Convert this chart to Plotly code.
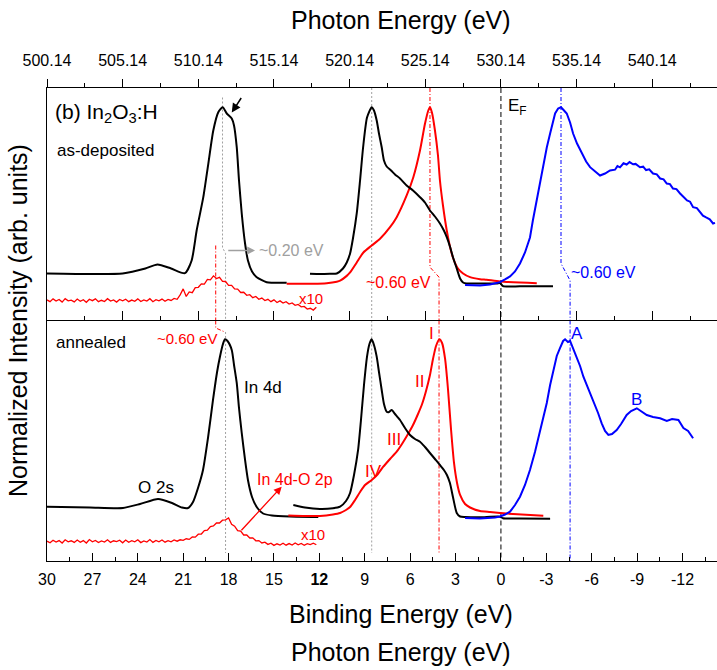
import plotly.graph_objects as go

# ---------------- data: binding energy (eV) and normalized intensity (offset, arb. units) ----------------
# as-deposited (upper panel)
dep_core_be = [30.0, 27.0, 25.0, 23.5, 22.7, 21.8, 20.88, 20.44, 20.11, 19.67, 19.34, 19.01, 18.68,
               18.39, 18.12, 17.79, 17.64, 17.46, 17.31, 17.13, 16.91, 16.72, 16.45, 16.14, 15.48, 14.16]
dep_core_i = [23.5, 23.25, 23.5, 26.0, 28.0, 26.0, 23.65, 30.0, 45.0, 61.65, 78.35, 95.0, 104.15,
              106.65, 103.5, 101.0, 97.5, 86.65, 70.0, 53.5, 38.5, 30.0, 24.5, 21.65, 19.15, 18.85]

dep_vb_black_be = [12.62, 11.96, 11.30, 10.85, 10.44, 10.19, 9.97, 9.78, 9.53, 9.31, 9.11, 8.85, 8.54,
                   8.39, 8.21, 8.06, 7.88, 7.73, 7.55, 7.26, 7.00, 6.67, 6.23, 5.81, 5.35, 5.02, 4.69,
                   4.36, 4.03, 3.77, 3.58, 3.37, 3.17, 2.92, 2.70, 2.50, 2.26, 1.38, 0.28, 0.06, -0.14,
                   -1.26, -3.44]
dep_vb_black_i = [23.35, 23.25, 23.35, 23.5, 26.0, 29.0, 33.5, 41.0, 53.5, 70.0, 86.5, 101.5, 106.65,
                  105.0, 100.0, 93.5, 86.65, 80.0, 77.0, 75.0, 73.0, 71.0, 67.5, 65.0, 61.65, 59.0, 55.0,
                  52.0, 48.5, 45.0, 41.65, 37.0, 31.65, 26.0, 21.0, 19.0, 18.5, 18.5, 18.5, 18.75, 17.15,
                  17.1, 17.15]

dep_vb_red_be = [14.16, 12.40, 11.51, 10.85, 10.63, 10.19, 9.97, 9.53, 9.09, 8.54, 7.99, 7.33, 6.89,
                 6.23, 5.79, 5.35, 5.02, 4.80, 4.69, 4.56, 4.36, 4.16, 4.03, 3.83, 3.58, 3.37, 3.15,
                 2.84, 2.50, 2.04, 1.38, 0.94, 0.06, -2.37]
dep_vb_red_i = [18.35, 18.35, 18.65, 19.4, 19.9, 22.3, 24.0, 29.0, 34.0, 37.5, 40.85, 46.65, 51.65,
                62.5, 71.65, 85.0, 98.35, 105.0, 106.65, 104.0, 95.0, 82.5, 70.0, 57.5, 45.0, 37.0, 31.0,
                26.0, 23.5, 21.65, 20.65, 20.35, 19.5, 18.65]

dep_blue_be = [2.37, 1.38, 0.72, 0.06, -0.27, -0.60, -0.93, -1.26, -1.59, -1.92, -2.11, -2.37, -2.58,
               -2.80, -3.03, -3.25, -3.58, -3.78, -3.97, -4.17, -4.35, -4.57, -4.77, -5.03, -5.34,
               -5.63, -5.89, -6.22, -6.55, -6.88, -7.21, -7.54, -7.70, -7.87, -8.10, -8.31, -8.50,
               -8.73, -8.90, -9.19, -9.40, -9.59, -9.80, -10.05, -10.30, -10.52, -10.75, -10.96,
               -11.17, -11.37, -11.60, -11.84, -12.05, -12.30, -12.50, -12.70, -12.95, -13.16,
               -13.35, -13.56, -13.80, -14.02, -14.15]
dep_blue_i = [17.75, 17.5, 18.0, 19.15, 20.5, 22.0, 24.5, 28.5, 34.0, 41.5, 50.0, 60.0, 69.0,
              78.5, 86.5, 93.5, 103.5, 106.0, 106.65, 105.0, 103.5, 99.0, 93.5, 88.5, 83.5,
              79.5, 76.65, 74.5, 72.5, 73.5, 75.0, 75.4, 77.2, 76.6, 78.6, 78.0, 79.2,
              78.1, 78.3, 76.65, 76.9, 75.2, 75.6, 73.5, 73.1, 71.0, 70.6, 68.5,
              68.2, 66.0, 65.7, 63.5, 62.0, 60.0, 59.4, 56.65, 56.2, 54.0,
              52.4, 51.5, 50.6, 48.5, 48.8]

# x10 magnified In 4d - O 2p region, sampled every 0.2 eV from 30.0 eV down to 12.2 eV
dep_x10_be = [round(30.0 - 0.2 * k, 1) for k in range(90)]
dep_x10_i = [10.3, 9.4, 10.8, 9.7, 10.5, 9.2, 10.9, 9.8, 10.2, 9.3,
             10.7, 9.6, 10.4, 9.1, 10.6, 9.9, 10.8, 9.4, 10.1, 9.5,
             10.9, 9.7, 10.3, 9.2, 10.5, 9.8, 10.6, 9.4, 10.2, 9.6,
             10.8, 9.5, 10.3, 9.7, 10.9, 9.4, 10.4, 9.8, 10.7, 9.6,
             10.5, 10.0, 11.0, 10.6, 12.8, 15.8, 12.0, 14.3, 13.9, 16.4,
             16.6, 18.3, 18.2, 20.5, 20.3, 22.3, 21.0, 21.6, 19.6, 19.5,
             17.6, 17.6, 15.8, 15.7, 14.0, 14.1, 12.6, 12.9, 11.4, 12.0,
             10.6, 11.2, 10.0, 10.6, 9.4, 10.3, 9.0, 9.8, 8.7, 9.4,
             8.2, 8.8, 7.6, 8.0, 6.8, 7.0, 5.7, 6.1, 5.2, 6.6]

# annealed (lower panel)
ann_core_be = [30.0, 27.16, 24.98, 23.85, 22.66, 21.74, 21.08, 20.68, 20.35, 20.02, 19.69, 19.36, 19.03,
               18.76, 18.57, 18.37, 18.24, 18.07, 17.79, 17.64, 17.46, 17.31, 17.13, 16.91, 16.72, 16.45,
               16.14, 15.72, 15.13, 13.94, 12.07]
ann_core_i = [27.15, 26.75, 26.5, 28.5, 31.0, 29.0, 26.75, 26.5, 29.5, 36.5, 45.5, 61.5, 80.5,
              94.5, 102.15, 108.5, 110.85, 110.0, 105.5, 98.0, 89.0, 76.5, 64.0, 50.5, 40.5, 32.0,
              27.0, 23.75, 22.75, 22.25, 22.0]

ann_vb_black_be = [13.72, 12.95, 11.96, 11.10, 10.63, 10.24, 9.97, 9.71, 9.44, 9.25, 9.05, 8.85, 8.69,
                   8.54, 8.39, 8.21, 8.06, 7.88, 7.73, 7.55, 7.39, 7.22, 7.00, 6.67, 6.34, 6.01, 5.68,
                   5.35, 5.02, 4.69, 4.36, 4.03, 3.77, 3.57, 3.37, 3.17, 2.92, 2.70, 2.37, 1.38, 0.06,
                   -0.14, -1.26, -3.25]
ann_vb_black_i = [28.0, 26.75, 26.0, 26.35, 27.15, 30.0, 34.0, 43.0, 55.5, 70.5, 88.0, 102.15, 108.5,
                  110.85, 108.0, 102.15, 94.5, 85.5, 78.5, 74.65, 74.5, 75.5, 73.5, 70.5, 66.5, 63.0, 61.0,
                  59.65, 57.0, 54.0, 51.0, 48.0, 45.5, 43.0, 39.0, 32.0, 24.0, 22.25, 22.0, 21.85, 22.15,
                  21.35, 21.25, 21.15]

ann_vb_red_be = [14.05, 12.95, 11.96, 11.10, 10.63, 10.24, 9.97, 9.64, 9.31, 8.98, 8.54, 8.19, 7.79,
                 7.33, 6.89, 6.54, 6.14, 5.81, 5.48, 5.21, 4.95, 4.69, 4.49, 4.29, 4.07, 3.89, 3.69,
                 3.50, 3.30, 3.10, 2.90, 2.70, 2.37, 2.04, 1.38, 0.72, 0.06, -0.80, -2.80]
ann_vb_red_i = [22.75, 22.5, 22.5, 23.25, 24.0, 25.5, 27.0, 30.5, 34.5, 38.0, 40.5, 43.0, 47.0,
                51.0, 54.65, 58.5, 63.5, 68.0, 73.5, 78.5, 85.0, 93.0, 101.0, 107.5, 110.85, 109.0, 101.0,
                86.0, 66.0, 49.0, 39.0, 33.0, 28.5, 26.75, 25.0, 24.5, 24.0, 23.5, 22.65]

ann_blue_be = [2.37, 1.38, 0.39, 0.06, -0.27, -0.60, -0.93, -1.26, -1.59, -1.92, -2.25, -2.58, -2.80,
               -3.03, -3.25, -3.46, -3.69, -3.91, -4.11, -4.24, -4.43, -4.57, -4.77, -5.01, -5.23,
               -5.45, -5.76, -6.11, -6.42, -6.66, -6.88, -7.10, -7.34, -7.65, -7.94, -8.31, -8.60,
               -8.98, -9.26, -9.64, -10.05, -10.52, -10.96, -11.31, -11.73, -12.06, -12.37, -12.70]
ann_blue_i = [21.5, 21.25, 21.75, 22.25, 23.25, 24.65, 28.0, 32.15, 38.0, 45.5, 54.5, 64.5, 71.5,
              79.0, 88.0, 95.5, 102.5, 106.5, 110.0, 110.85, 109.5, 110.0, 106.5, 102.15, 97.5,
              92.15, 86.5, 80.5, 74.0, 68.85, 65.0, 63.0, 63.5, 65.5, 68.5, 73.0, 75.0,
              76.35, 75.0, 73.0, 72.0, 71.35, 70.0, 71.0, 70.5, 66.5, 65.0, 61.35]

ann_x10_be = [round(30.0 - 0.2 * k, 1) for k in range(90)]
ann_x10_i = [9.9, 9.1, 10.4, 9.5, 10.2, 9.0, 10.6, 9.6, 10.1, 9.3,
             10.5, 9.4, 10.2, 9.0, 10.7, 9.6, 10.3, 9.2, 10.0, 9.5,
             10.6, 9.3, 10.1, 9.7, 10.4, 9.1, 10.5, 9.4, 10.2, 9.6,
             10.6, 9.2, 10.0, 9.5, 10.7, 9.3, 10.3, 9.6, 10.5, 9.4,
             10.2, 9.6, 10.5, 9.9, 10.6, 10.3, 11.1, 10.8, 12.0, 11.9,
             13.4, 13.5, 15.2, 15.4, 17.2, 17.5, 19.0, 19.0, 20.4, 20.6,
             21.5, 18.3, 17.4, 15.2, 14.9, 13.0, 13.0, 11.5, 11.6, 10.1,
             10.2, 9.0, 9.4, 8.3, 8.9, 7.8, 8.6, 8.0, 8.9, 7.9,
             8.7, 8.0, 9.0, 8.1, 8.8, 7.9, 8.7, 8.2, 8.9, 8.1]

# peak positions (binding energy, eV)
dep_in4d_peak, ann_in4d_peak = 18.40, 18.20
dep_x10_peak, ann_x10_peak = 18.85, 18.25
vb_black_peak = 8.54
dep_red_peak, ann_red_peak = 4.69, 4.09
dep_blue_peak, ann_blue_peak = -3.97, -4.57
fermi_level = 0.0

# axis tick values
be_ticks = [30, 27, 24, 21, 18, 15, 12, 9, 6, 3, 0, -3, -6, -9, -12]
be_ticktext = ["30", "27", "24", "21", "18", "15", "<b>12</b>", "9", "6", "3", "0", "-3", "-6", "-9", "-12"]
be_minor = [28.5, 25.5, 22.5, 19.5, 16.5, 13.5, 10.5, 7.5, 4.5, 1.5, -1.5, -4.5, -7.5, -10.5, -13.5]
photon_offset = 530.14
photon_ticks = [500.14, 505.14, 510.14, 515.14, 520.14, 525.14, 530.14, 535.14, 540.14]
photon_ticktext = ["500.14", "505.14", "510.14", "515.14", "520.14", "525.14", "530.14", "535.14", "540.14"]
photon_minor = [502.64, 507.64, 512.64, 517.64, 522.64, 527.64, 532.64, 537.64, 542.64]

BE_RANGE = [30.0, -14.28]
UP_RANGE = [0, 116.25]
LO_RANGE = [0, 120.25]

FONT = "Arial, Liberation Sans, sans-serif"
RED, BLUE, BLACK, GRAY = "#ff0000", "#0000ff", "#000000", "#a0a0a0"

fig = go.Figure()


def curve(x, y, color, panel, width=2.0, smooth=True):
    xa, ya = ("x2", "y2") if panel == "up" else ("x", "y")
    fig.add_trace(go.Scatter(
        x=x, y=y, xaxis=xa, yaxis=ya, mode="lines",
        line=dict(color=color, width=width, shape="spline" if smooth else "linear",
                  smoothing=0.6 if smooth else None),
        showlegend=False, hoverinfo="skip"))


def guide(x, y, color, dash, panel, width=1.0):
    xa, ya = ("x2", "y2") if panel == "up" else ("x", "y")
    fig.add_trace(go.Scatter(
        x=x, y=y, xaxis=xa, yaxis=ya, mode="lines",
        line=dict(color=color, width=width, dash=dash),
        showlegend=False, hoverinfo="skip"))


# guide lines (drawn first, underneath the spectra)
guide([dep_in4d_peak, dep_in4d_peak, ann_in4d_peak, ann_in4d_peak], [111.5, 36.5, 33.5, 0], GRAY, "2px,2px", "up")
guide([ann_in4d_peak, ann_in4d_peak], [114.5, 4], GRAY, "2px,2px", "lo")
guide([dep_x10_peak, dep_x10_peak], [37.5, 0], RED, "4px,2px,1px,2px", "up")
guide([dep_x10_peak, dep_x10_peak, ann_x10_peak], [120.25, 116.5, 114.5], RED, "4px,2px,1px,2px", "lo")
guide([vb_black_peak, vb_black_peak], [116.25, 0], GRAY, "2px,2px", "up")
guide([vb_black_peak, vb_black_peak], [120.25, 4], GRAY, "2px,2px", "lo")
guide([dep_red_peak, dep_red_peak, ann_red_peak, ann_red_peak], [116.25, 26.65, 21.65, 0], RED, "4px,2px,1px,2px", "up")
guide([ann_red_peak, ann_red_peak], [120.25, 4], RED, "4px,2px,1px,2px", "lo")
guide([fermi_level, fermi_level], [116.25, 0], BLACK, "5px,3px", "up")
guide([fermi_level, fermi_level], [120.25, 0], BLACK, "5px,3px", "lo")
guide([dep_blue_peak, dep_blue_peak, ann_blue_peak, ann_blue_peak], [116.25, 28.5, 20.0, 0], BLUE, "4px,2px,1px,2px", "up")
guide([ann_blue_peak, ann_blue_peak], [120.25, 0], BLUE, "4px,2px,1px,2px", "lo")

# spectra
curve(dep_x10_be, dep_x10_i, RED, "up", width=1.3, smooth=False)
curve(dep_core_be, dep_core_i, BLACK, "up")
curve(dep_vb_red_be, dep_vb_red_i, RED, "up")
curve(dep_vb_black_be, dep_vb_black_i, BLACK, "up")
curve(dep_blue_be, dep_blue_i, BLUE, "up", smooth=False)

curve(ann_x10_be, ann_x10_i, RED, "lo", width=1.3, smooth=False)
curve(ann_core_be, ann_core_i, BLACK, "lo")
curve(ann_vb_red_be, ann_vb_red_i, RED, "lo")
curve(ann_vb_black_be, ann_vb_black_i, BLACK, "lo")
curve(ann_blue_be, ann_blue_i, BLUE, "lo", smooth=False)

# carrier trace for the photon-energy axis on top
fig.add_trace(go.Scatter(x=[photon_offset - BE_RANGE[0], photon_offset - BE_RANGE[1]], y=[None, None],
                         xaxis="x3", yaxis="y2", mode="lines", showlegend=False, hoverinfo="skip"))

axis_common = dict(showgrid=False, zeroline=False, showline=True, linecolor="black", linewidth=1.3,
                   tickcolor="black", tickwidth=1.3, mirror=False)

fig.update_layout(
    width=717, height=670,
    margin=dict(l=47, r=0, t=88, b=109),
    paper_bgcolor="white", plot_bgcolor="white",
    font=dict(family=FONT, color="black", size=16),
    xaxis=dict(**axis_common, domain=[0, 1], anchor="y", range=BE_RANGE,
               tickmode="array", tickvals=be_ticks, ticktext=be_ticktext, ticks="inside", ticklen=8,
               tickfont=dict(size=16), ticklabelstandoff=4,
               minor=dict(tickmode="array", tickvals=be_minor, ticks="inside", ticklen=4,
                          tickcolor="black", tickwidth=1.3)),
    yaxis=dict(**axis_common, domain=[0, 0.5085], anchor="x", range=LO_RANGE,
               showticklabels=False, ticks=""),
    xaxis2=dict(**axis_common, domain=[0, 1], anchor="y2", range=BE_RANGE, matches="x",
                tickmode="array", tickvals=[30, 25, 20, 15, 10, 5, 0, -5, -10], ticks="inside", ticklen=9,
                showticklabels=False,
                minor=dict(tickmode="array", tickvals=[27.5, 22.5, 17.5, 12.5, 7.5, 2.5, -2.5, -7.5, -12.5],
                           ticks="inside", ticklen=4, tickcolor="black", tickwidth=1.3)),
    yaxis2=dict(**axis_common, domain=[0.5085, 1], anchor="x2", range=UP_RANGE,
                showticklabels=False, ticks=""),
    xaxis3=dict(**axis_common, overlaying="x2", side="top", anchor="y2",
                range=[photon_offset - BE_RANGE[0], photon_offset - BE_RANGE[1]],
                tickmode="array", tickvals=photon_ticks, ticktext=photon_ticktext,
                ticks="outside", ticklen=8, tickfont=dict(size=16), ticklabelstandoff=6,
                minor=dict(tickmode="array", tickvals=photon_minor, ticks="outside", ticklen=4,
                           tickcolor="black", tickwidth=1.3)),
)


def note(text, x, y, panel, color=BLACK, size=17, xanchor="center"):
    xa, ya = ("x2", "y2") if panel == "up" else ("x", "y")
    fig.add_annotation(text=text, x=x, y=y, xref=xa, yref=ya, showarrow=False,
                       xanchor=xanchor, yanchor="middle", font=dict(size=size, color=color, family=FONT))


# panel labels
note("(b) In<sub>2</sub>O<sub>3</sub>:H", 29.6, 104, "up", size=21, xanchor="left")
note("as-deposited", 29.47, 85, "up", size=17, xanchor="left")
note("annealed", 29.54, 109, "lo", size=17, xanchor="left")
note("E<sub>F</sub>", -0.33, 107, "up", size=17, xanchor="left")
note("~0.20 eV", 16.12, 35, "up", color=GRAY, size=16, xanchor="left")
note("~0.60 eV", 4.49, 19, "up", color=RED, size=16, xanchor="right")
note("~0.60 eV", -4.50, 24, "up", color=BLUE, size=16, xanchor="left")
note("x10", 12.55, 11, "up", color=RED, size=15)
note("x10", 12.45, 13, "lo", color=RED, size=15)
note("~0.60 eV", 20.75, 111, "lo", color=RED, size=15)
note("In 4d", 17.11, 86.5, "lo", size=17, xanchor="left")
note("O 2s", 22.8, 36.5, "lo", size=17)
note("In 4d-O 2p", 16.25, 40.5, "lo", color=RED, size=16, xanchor="left")
note("I", 4.57, 113.85, "lo", color=RED, size=17)
note("II", 5.35, 89.65, "lo", color=RED, size=17)
note("III", 7.1, 60.5, "lo", color=RED, size=17)
note("IV", 8.39, 44.65, "lo", color=RED, size=17)
note("A", -5.01, 113.85, "lo", color=BLUE, size=17)
note("B", -8.93, 80.5, "lo", color=BLUE, size=17)

# arrows
fig.add_annotation(x=17.79, y=104, ax=17.1, ay=112, xref="x2", yref="y2", axref="x2", ayref="y2",
                   text="", showarrow=True, arrowhead=2, arrowsize=1.2, arrowwidth=1.5, arrowcolor=BLACK)
fig.add_annotation(x=16.25, y=35, ax=18.12, ay=35, xref="x2", yref="y2", axref="x2", ayref="y2",
                   text="", showarrow=True, arrowhead=2, arrowsize=1.2, arrowwidth=1.3, arrowcolor=GRAY)
fig.add_annotation(x=14.49, y=37.15, ax=17.24, ay=14.65, xref="x", yref="y", axref="x", ayref="y",
                   text="", showarrow=True, arrowhead=2, arrowsize=1.2, arrowwidth=1.3, arrowcolor=RED)

# axis titles
TITLE_SIZE = 25
for text, y in [("Photon Energy (eV)", 1.1438), ("Binding Energy (eV)", -0.112), ("Photon Energy (eV)", -0.192)]:
    fig.add_annotation(text=text, x=0.528, y=y, xref="paper", yref="paper", showarrow=False,
                       xanchor="center", yanchor="middle", font=dict(size=TITLE_SIZE, family=FONT))
fig.add_annotation(text="Normalized Intensity (arb. units)", x=-0.0433, y=0.5095, xref="paper", yref="paper",
                   showarrow=False, textangle=-90, xanchor="center", yanchor="middle",
                   font=dict(size=TITLE_SIZE, family=FONT))

fig.write_html("out.html")
